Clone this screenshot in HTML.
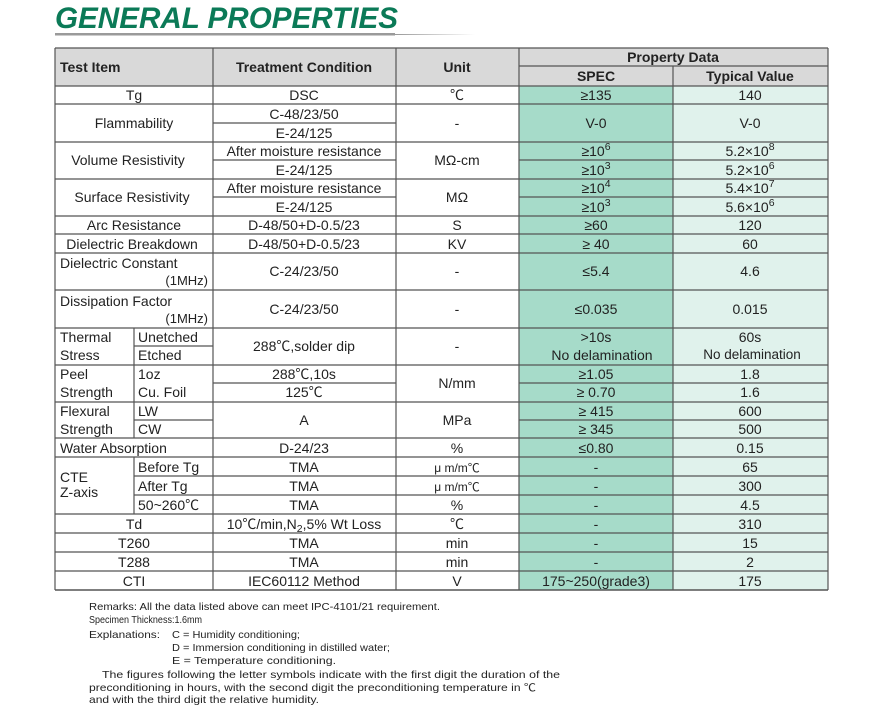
<!DOCTYPE html>
<html><head><meta charset="utf-8"><style>
body{margin:0;background:#fff;}
svg{display:block;font-family:"Liberation Sans","Noto Sans CJK SC",sans-serif;}
text{fill:#222;font-size:14px;}
.b{font-weight:bold;}
.s{font-size:10.5px;}
.f{font-size:10.5px;}
</style></head><body>
<svg width="874" height="705" viewBox="0 0 874 705">
<defs><linearGradient id="g" x1="0" x2="1"><stop offset="0" stop-color="#999"/><stop offset="1" stop-color="#fff"/></linearGradient></defs>
<text x="55" y="28" font-size="30" font-weight="bold" font-style="italic" style="fill:#0b7a57;font-size:30px" textLength="343" lengthAdjust="spacingAndGlyphs">GENERAL PROPERTIES</text>
<rect x="55" y="33" width="340" height="2.5" fill="#9a9a9a"/>
<rect x="395" y="34" width="80" height="1" fill="url(#g)"/>
<rect x="55" y="48" width="773" height="38" fill="#d9d9d9"/>
<rect x="519" y="86" width="154" height="504" fill="#a6dbc9"/>
<rect x="673" y="86" width="155" height="504" fill="#e0f2ec"/>
<g stroke="#555" stroke-width="1.2">
<line x1="55" y1="48" x2="828" y2="48"/>
<line x1="519" y1="66" x2="828" y2="66"/>
<line x1="55" y1="86" x2="828" y2="86"/>
<line x1="55" y1="104" x2="828" y2="104"/>
<line x1="213" y1="123" x2="396" y2="123"/>
<line x1="55" y1="142" x2="828" y2="142"/>
<line x1="213" y1="160" x2="396" y2="160"/><line x1="519" y1="160" x2="828" y2="160"/>
<line x1="55" y1="179" x2="828" y2="179"/>
<line x1="213" y1="197" x2="396" y2="197"/><line x1="519" y1="197" x2="828" y2="197"/>
<line x1="55" y1="216" x2="828" y2="216"/>
<line x1="55" y1="234" x2="828" y2="234"/>
<line x1="55" y1="253" x2="828" y2="253"/>
<line x1="55" y1="290" x2="828" y2="290"/>
<line x1="55" y1="328" x2="828" y2="328"/>
<line x1="134" y1="346" x2="213" y2="346"/>
<line x1="55" y1="365" x2="828" y2="365"/>
<line x1="213" y1="383" x2="396" y2="383"/><line x1="519" y1="383" x2="828" y2="383"/>
<line x1="55" y1="402" x2="828" y2="402"/>
<line x1="134" y1="420" x2="213" y2="420"/><line x1="519" y1="420" x2="828" y2="420"/>
<line x1="55" y1="438" x2="828" y2="438"/>
<line x1="55" y1="457" x2="828" y2="457"/>
<line x1="134" y1="476" x2="828" y2="476"/>
<line x1="134" y1="495" x2="828" y2="495"/>
<line x1="55" y1="514" x2="828" y2="514"/>
<line x1="55" y1="533" x2="828" y2="533"/>
<line x1="55" y1="552" x2="828" y2="552"/>
<line x1="55" y1="571" x2="828" y2="571"/>
<line x1="55" y1="590" x2="828" y2="590" stroke-width="1.5"/>
<line x1="55" y1="48" x2="55" y2="590"/>
<line x1="213" y1="48" x2="213" y2="590"/>
<line x1="396" y1="48" x2="396" y2="590"/>
<line x1="519" y1="48" x2="519" y2="590"/>
<line x1="673" y1="66" x2="673" y2="590"/>
<line x1="828" y1="48" x2="828" y2="590"/>
<line x1="134" y1="328" x2="134" y2="438"/>
<line x1="134" y1="457" x2="134" y2="514"/>
</g>
<g class="b">
<text x="60" y="72" class="b">Test  Item</text>
<text x="304" y="72" text-anchor="middle" class="b">Treatment  Condition</text>
<text x="457" y="72" text-anchor="middle" class="b">Unit</text>
<text x="673" y="62" text-anchor="middle" class="b">Property Data</text>
<text x="596" y="81" text-anchor="middle" class="b">SPEC</text>
<text x="750" y="81" text-anchor="middle" class="b">Typical Value</text>
</g>
<g text-anchor="middle">
<text x="134" y="100">Tg</text><text x="304" y="100">DSC</text><text x="457" y="100">℃</text><text x="596" y="100">≥135</text><text x="750" y="100">140</text>
<text x="134" y="128">Flammability</text><text x="304" y="119">C-48/23/50</text><text x="304" y="138">E-24/125</text><text x="457" y="128">-</text><text x="596" y="128">V-0</text><text x="750" y="128">V-0</text>
<text x="128" y="165">Volume Resistivity</text><text x="304" y="156">After moisture resistance</text><text x="304" y="175">E-24/125</text><text x="457" y="165">MΩ-cm</text>
<text x="596" y="156">≥10<tspan class="s" dy="-6">6</tspan></text><text x="596" y="175">≥10<tspan class="s" dy="-6">3</tspan></text>
<text x="750" y="156">5.2×10<tspan class="s" dy="-6">8</tspan></text><text x="750" y="175">5.2×10<tspan class="s" dy="-6">6</tspan></text>
<text x="132" y="202">Surface Resistivity</text><text x="304" y="193">After moisture resistance</text><text x="304" y="212">E-24/125</text><text x="457" y="202">MΩ</text>
<text x="596" y="193">≥10<tspan class="s" dy="-6">4</tspan></text><text x="596" y="212">≥10<tspan class="s" dy="-6">3</tspan></text>
<text x="750" y="193">5.4×10<tspan class="s" dy="-6">7</tspan></text><text x="750" y="212">5.6×10<tspan class="s" dy="-6">6</tspan></text>
<text x="134" y="230">Arc Resistance</text><text x="304" y="230">D-48/50+D-0.5/23</text><text x="457" y="230">S</text><text x="596" y="230">≥60</text><text x="750" y="230">120</text>
<text x="132" y="249">Dielectric Breakdown</text><text x="304" y="249">D-48/50+D-0.5/23</text><text x="457" y="249">KV</text><text x="596" y="249">≥ 40</text><text x="750" y="249">60</text>
<text x="304" y="276">C-24/23/50</text><text x="457" y="276">-</text><text x="596" y="276">≤5.4</text><text x="750" y="276">4.6</text>
<text x="304" y="314">C-24/23/50</text><text x="457" y="314">-</text><text x="596" y="314">≤0.035</text><text x="750" y="314">0.015</text>
<text x="304" y="351">288℃,solder dip</text><text x="457" y="351">-</text><text x="596" y="342">&gt;10s</text><text x="602" y="360">No delamination</text>
<text x="750" y="342">60s</text><text x="752" y="359" style="font-size:13.5px">No delamination</text>
<text x="304" y="379">288℃,10s</text><text x="304" y="397">125℃</text><text x="457" y="388">N/mm</text><text x="596" y="379">≥1.05</text><text x="596" y="397">≥ 0.70</text><text x="750" y="379">1.8</text><text x="750" y="397">1.6</text>
<text x="304" y="425">A</text><text x="457" y="425">MPa</text><text x="596" y="416">≥ 415</text><text x="596" y="434">≥ 345</text><text x="750" y="416">600</text><text x="750" y="434">500</text>
<text x="304" y="453">D-24/23</text><text x="457" y="453">%</text><text x="596" y="453">≤0.80</text><text x="750" y="453">0.15</text>
<text x="304" y="472">TMA</text><text x="457" y="472" style="font-size:12px">μ m/m℃</text><text x="596" y="472">-</text><text x="750" y="472">65</text>
<text x="304" y="491">TMA</text><text x="457" y="491" style="font-size:12px">μ m/m℃</text><text x="596" y="491">-</text><text x="750" y="491">300</text>
<text x="304" y="510">TMA</text><text x="457" y="510">%</text><text x="596" y="510">-</text><text x="750" y="510">4.5</text>
<text x="134" y="529">Td</text><text x="304" y="529">10℃/min,N<tspan class="s" dy="3">2</tspan><tspan dy="-3">,5% Wt Loss</tspan></text><text x="457" y="529">℃</text><text x="596" y="529">-</text><text x="750" y="529">310</text>
<text x="134" y="548">T260</text><text x="304" y="548">TMA</text><text x="457" y="548">min</text><text x="596" y="548">-</text><text x="750" y="548">15</text>
<text x="134" y="567">T288</text><text x="304" y="567">TMA</text><text x="457" y="567">min</text><text x="596" y="567">-</text><text x="750" y="567">2</text>
<text x="134" y="586">CTI</text><text x="304" y="586">IEC60112 Method</text><text x="457" y="586">V</text><text x="596" y="586">175~250(grade3)</text><text x="750" y="586">175</text>
</g>
<text x="60" y="268">Dielectric Constant</text><text x="208" y="285" text-anchor="end" style="font-size:13px">(1MHz)</text>
<text x="60" y="306">Dissipation Factor</text><text x="208" y="323" text-anchor="end" style="font-size:13px">(1MHz)</text>
<text x="60" y="342">Thermal</text><text x="60" y="360">Stress</text><text x="138" y="342">Unetched</text><text x="138" y="360">Etched</text>
<text x="60" y="379">Peel</text><text x="60" y="397">Strength</text><text x="138" y="379">1oz</text><text x="138" y="397">Cu. Foil</text>
<text x="60" y="416">Flexural</text><text x="60" y="434">Strength</text><text x="138" y="416">LW</text><text x="138" y="434">CW</text>
<text x="60" y="453">Water Absorption</text>
<text x="60" y="482">CTE</text><text x="60" y="497">Z-axis</text>
<text x="138" y="472">Before Tg</text><text x="138" y="491">After Tg</text><text x="138" y="510">50~260℃</text>
<text class="f" x="89" y="610" textLength="351" lengthAdjust="spacingAndGlyphs">Remarks: All the data listed above can meet IPC-4101/21 requirement.</text>
<text class="f" x="89" y="623" textLength="113" lengthAdjust="spacingAndGlyphs">Specimen Thickness:1.6mm</text>
<text class="f" x="89" y="638" textLength="71" lengthAdjust="spacingAndGlyphs">Explanations:</text>
<text class="f" x="172" y="638" textLength="128" lengthAdjust="spacingAndGlyphs">C = Humidity conditioning;</text>
<text class="f" x="172" y="651" textLength="218" lengthAdjust="spacingAndGlyphs">D = Immersion conditioning in distilled water;</text>
<text class="f" x="172" y="664" textLength="164" lengthAdjust="spacingAndGlyphs">E = Temperature conditioning.</text>
<text class="f" x="102" y="678" textLength="458" lengthAdjust="spacingAndGlyphs">The figures following the letter symbols indicate with the first digit the duration of the</text>
<text class="f" x="89" y="691" textLength="447" lengthAdjust="spacingAndGlyphs">preconditioning in hours, with the second digit the preconditioning temperature in ℃</text>
<text class="f" x="89" y="703" textLength="230" lengthAdjust="spacingAndGlyphs">and with the third digit the relative humidity.</text>
</svg>
</body></html>
